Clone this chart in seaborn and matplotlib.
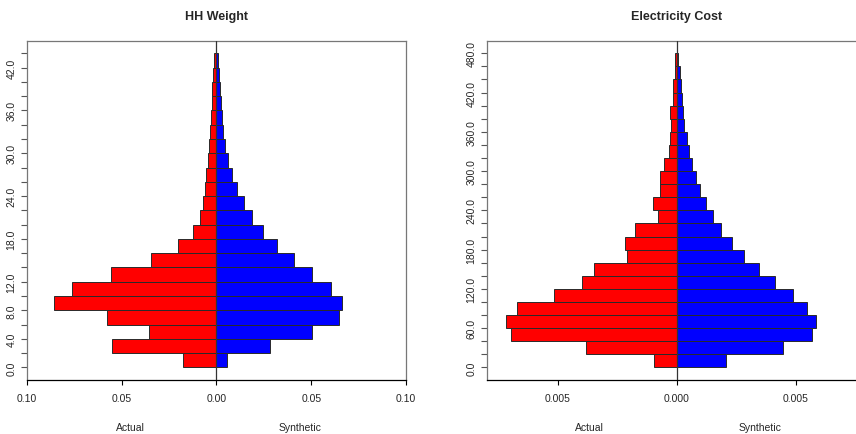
import numpy as np
import pandas as pd
import matplotlib
matplotlib.use("Agg")
import matplotlib.pyplot as plt
import matplotlib.transforms as mtransforms
import seaborn as sns

# HH Weight: bins of width 2 (midpoints), share of households
hh_mid = [1, 3, 5, 7, 9, 11, 13, 15, 17, 19, 21, 23, 25, 27, 29, 31, 33, 35, 37, 39, 41, 43]
hh_actual = [0.0175, 0.0553, 0.0354, 0.0579, 0.0858, 0.0760, 0.0556, 0.0346, 0.0202, 0.0125, 0.0088,
             0.0070, 0.0060, 0.0053, 0.0046, 0.0039, 0.0033, 0.0030, 0.0026, 0.0023, 0.0019, 0.0014]
hh_synth = [0.0053, 0.0284, 0.0505, 0.0644, 0.0663, 0.0602, 0.0505, 0.0409, 0.0319, 0.0247, 0.0188,
            0.0144, 0.0107, 0.0082, 0.0063, 0.0047, 0.0037, 0.0030, 0.0023, 0.0018, 0.0012, 0.0009]
hh_ticks = [0, 2, 4, 6, 8, 10, 12, 14, 16, 18, 20, 22, 24, 26, 28, 30, 32, 34, 36, 38, 40, 42, 44]
hh_labelled = [0, 4, 8, 12, 18, 24, 30, 36, 42]
hh_xticks = [-0.10, -0.05, 0.0, 0.05, 0.10]

# Electricity Cost: bins of width 20 (midpoints)
elec_mid = [10, 30, 50, 70, 90, 110, 130, 150, 170, 190, 210, 230, 250, 270, 290, 310, 330, 350,
            370, 390, 410, 430, 450, 470]
elec_actual = [0.00097, 0.00383, 0.00696, 0.00717, 0.00673, 0.00516, 0.00401, 0.00347, 0.00210,
               0.00216, 0.00177, 0.00080, 0.00099, 0.00072, 0.00069, 0.00055, 0.00032, 0.00027,
               0.00024, 0.00029, 0.00014, 0.00018, 0.00008, 0.00006]
elec_synth = [0.00209, 0.00449, 0.00567, 0.00586, 0.00549, 0.00487, 0.00415, 0.00348, 0.00283,
              0.00233, 0.00185, 0.00152, 0.00121, 0.00098, 0.00079, 0.00062, 0.00051, 0.00041,
              0.00032, 0.00027, 0.00022, 0.00018, 0.00014, 0.00007]
elec_ticks = [0, 20, 40, 60, 80, 100, 120, 140, 160, 180, 200, 220, 240, 260, 280, 300, 320, 340,
              360, 380, 400, 420, 440, 460, 480]
elec_labelled = [0, 60, 120, 180, 240, 300, 360, 420, 480]
elec_xticks = [-0.005, 0.0, 0.005]

sns.set_style("white")
plt.rcParams["font.family"] = ["Liberation Sans", "DejaVu Sans"]

fig = plt.figure(figsize=(8.56, 4.35), dpi=100)
ax1 = fig.add_axes([0.0315, 0.1241, 0.4428, 0.780])
ax2 = fig.add_axes([0.5686, 0.1241, 0.4441, 0.780])


def pyramid(ax, mid, actual, synth, ticks, labelled, xticks, xfmt, xlim, title, lab_x):
    df = pd.DataFrame({"mid": mid, "actual": actual, "synth": synth})
    # left side: actual (negated), right side: synthetic
    sns.barplot(data=df, x=-df["actual"], y="mid", orient="y", native_scale=True, width=1,
                color="#ff0000", saturation=1, edgecolor="#2a2a2a", linewidth=0.7,
                errorbar=None, ax=ax)
    sns.barplot(data=df, x="synth", y="mid", orient="y", native_scale=True, width=1,
                color="#0000ff", saturation=1, edgecolor="#2a2a2a", linewidth=0.7,
                errorbar=None, ax=ax)
    ax.axvline(0, color="#333333", lw=0.9, zorder=3)

    span = ticks[-1] - ticks[0]
    ax.set_ylim(ticks[0] - 0.04 * span, ticks[-1] + 0.04 * span)
    ax.set_xlim(*xlim)
    ax.set_yticks(ticks)
    ax.set_yticklabels([f"{t:.1f}" if t in labelled else "" for t in ticks],
                       rotation=90, va="center", fontsize=7.5)
    ax.set_xticks(xticks)
    ax.set_xticklabels([xfmt.format(abs(v)) for v in xticks], fontsize=7.5)
    ax.tick_params(axis="y", left=True, length=4.5, width=0.8, color="#555555", pad=3)
    ax.tick_params(axis="x", bottom=True, length=3.5, width=0.8, color="black", pad=6)
    ax.set_xlabel("")
    ax.set_ylabel("")
    for side in ["top", "left", "right"]:
        ax.spines[side].set_color("#777777")
        ax.spines[side].set_linewidth(0.9)
    ax.spines["bottom"].set_color("black")
    ax.spines["bottom"].set_linewidth(0.9)
    ax.set_title(title, fontsize=9, fontweight="bold", pad=15.5)

    trans = mtransforms.blended_transform_factory(ax.transData, ax.transAxes)
    ax.text(lab_x[0], -0.1385, "Actual", transform=trans, ha="center", va="center", fontsize=7.5)
    ax.text(lab_x[1], -0.1385, "Synthetic", transform=trans, ha="center", va="center", fontsize=7.5)


pyramid(ax1, hh_mid, hh_actual, hh_synth, hh_ticks, hh_labelled, hh_xticks, "{:.2f}",
        (-0.10, 0.10), "HH Weight", (-0.0456, 0.0441))
pyramid(ax2, elec_mid, elec_actual, elec_synth, elec_ticks, elec_labelled, elec_xticks, "{:.3f}",
        (-0.008, 0.008), "Electricity Cost", (-0.00366, 0.00352))

fig.savefig("out.png", dpi=100)
